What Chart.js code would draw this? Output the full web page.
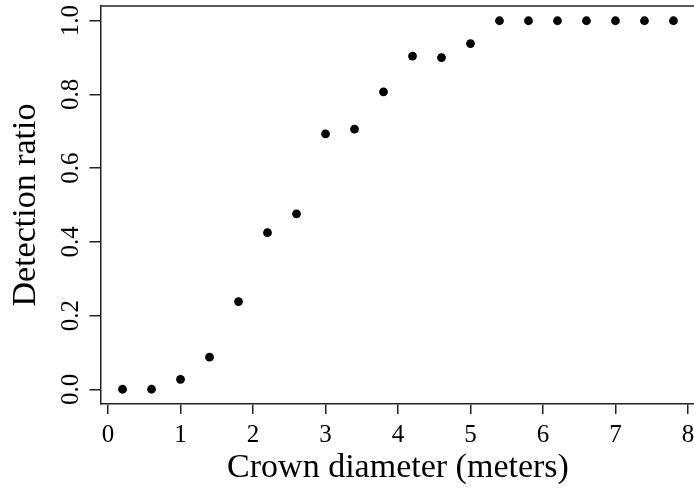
<!DOCTYPE html>
<html>
<head>
<meta charset="utf-8">
<script src="https://cdn.jsdelivr.net/npm/chart.js@4"></script>
<style>
  html, body { margin: 0; padding: 0; background: #fff; overflow: hidden; width: 694px; height: 491px; }
  #wrap { position: relative; width: 694px; height: 491px; overflow: hidden; }
  canvas { display: block; position: absolute; left: 0; top: 0; }
</style>
</head>
<body>
<div id="wrap">
<canvas id="c" width="700" height="491" style="width:700px;height:491px"></canvas>
</div>
<script>
// ---- data ----
const crownDiameter = [0.2, 0.6, 1.0, 1.4, 1.8, 2.2, 2.6, 3.0, 3.4, 3.8, 4.2, 4.6, 5.0, 5.4, 5.8, 6.2, 6.6, 7.0, 7.4, 7.8];
const detectionRatio = [0.0, 0.0, 0.027, 0.087, 0.238, 0.425, 0.476, 0.693, 0.706, 0.807, 0.904, 0.900, 0.938, 1.0, 1.0, 1.0, 1.0, 1.0, 1.0, 1.0];
const xTickValues = [0, 1, 2, 3, 4, 5, 6, 7, 8];
const yTickValues = [0.0, 0.2, 0.4, 0.6, 0.8, 1.0];
const xTickLabels = ['0', '1', '2', '3', '4', '5', '6', '7', '8'];
const yTickLabels = ['0.0', '0.2', '0.4', '0.6', '0.8', '1.0'];
const xTitle = 'Crown diameter (meters)';
const yTitle = 'Detection ratio';

const points = crownDiameter.map((x, i) => ({ x: x, y: detectionRatio[i] }));
const FONT = '"Liberation Serif", "Times New Roman", serif';
const INK = '#222';

const rStylePlugin = {
  id: 'rstyle',
  afterDraw(chart) {
    const ctx = chart.ctx;
    const a = chart.chartArea;
    const xs = chart.scales.x, ys = chart.scales.y;
    ctx.save();
    // box: top edge (right edge of the box lies outside the visible page)
    ctx.strokeStyle = INK;
    ctx.lineWidth = 1.5;
    ctx.beginPath();
    ctx.moveTo(a.left, a.top);
    ctx.lineTo(a.right, a.top);
    ctx.stroke();

    ctx.fillStyle = '#000';
    // x tick labels
    ctx.font = '25px ' + FONT;
    ctx.textAlign = 'center';
    ctx.textBaseline = 'alphabetic';
    xTickValues.forEach((v, i) => {
      ctx.fillText(xTickLabels[i], xs.getPixelForValue(v), 442);
    });
    // y tick labels (rotated, reading upward)
    yTickValues.forEach((v, i) => {
      ctx.save();
      ctx.translate(78, ys.getPixelForValue(v));
      ctx.rotate(-Math.PI / 2);
      ctx.fillText(yTickLabels[i], 0, 0);
      ctx.restore();
    });
    // axis titles
    ctx.font = '34px ' + FONT;
    ctx.fillText(xTitle, (a.left + a.right) / 2, 477);
    ctx.save();
    ctx.translate(35, (a.top + a.bottom) / 2);
    ctx.rotate(-Math.PI / 2);
    ctx.fillText(yTitle, 0, 0);
    ctx.restore();
    ctx.restore();
  }
};

new Chart(document.getElementById('c'), {
  type: 'scatter',
  data: {
    datasets: [{
      data: points,
      pointRadius: 4.4,
      pointHoverRadius: 4.4,
      pointBackgroundColor: '#000',
      pointBorderWidth: 0,
      borderWidth: 0,
      showLine: false
    }]
  },
  options: {
    responsive: false,
    animation: false,
    events: [],
    layout: { padding: { top: 6, right: 4.5, left: 0, bottom: 0 } },
    plugins: { legend: { display: false }, tooltip: { enabled: false } },
    scales: {
      x: {
        type: 'linear',
        min: -0.104,
        max: 8.104,
        afterBuildTicks: s => { s.ticks = xTickValues.map(v => ({ value: v })); },
        afterFit: s => { s.height = 87; },
        ticks: { display: false },
        grid: { display: true, drawOnChartArea: false, drawTicks: true, tickLength: 10, color: INK, lineWidth: 1.5 },
        border: { display: true, color: INK, width: 1.5 }
      },
      y: {
        type: 'linear',
        min: -0.04,
        max: 1.04,
        afterBuildTicks: s => { s.ticks = yTickValues.map(v => ({ value: v })); },
        afterFit: s => { s.width = 100.5; },
        ticks: { display: false },
        grid: { display: true, drawOnChartArea: false, drawTicks: true, tickLength: 11, color: INK, lineWidth: 1.5 },
        border: { display: true, color: INK, width: 1.5 }
      }
    }
  },
  plugins: [rStylePlugin]
});
</script>
</body>
</html>
